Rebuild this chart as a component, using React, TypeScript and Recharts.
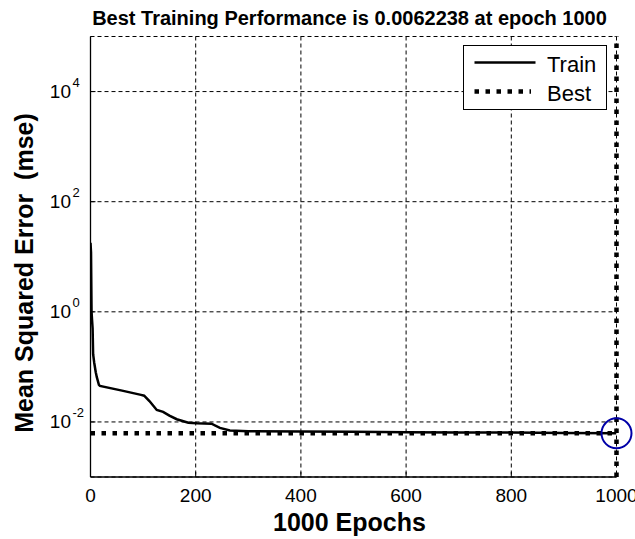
import React from 'react';
import {
  LineChart,
  Line,
  XAxis,
  YAxis,
  CartesianGrid,
  ReferenceLine,
  ReferenceDot,
  Legend,
  Label,
} from 'recharts';

// Training record: epoch and mean squared error
const epochs = [0, 1, 2, 3, 4, 5, 7, 10, 12, 16, 18, 60, 96, 102, 112, 126, 138, 150, 164, 186, 202, 230, 246, 265, 300, 400, 500, 600, 700, 800, 900, 1000];
const trainMse = [18, 12, 1.0, 0.7, 0.5, 0.17, 0.12, 0.08, 0.065, 0.047, 0.045, 0.037, 0.031, 0.030, 0.024, 0.0165, 0.0152, 0.013, 0.0112, 0.0097, 0.0095, 0.0093, 0.0078, 0.0070, 0.0068, 0.0067, 0.0066, 0.0065, 0.00645, 0.0064, 0.0063, 0.0062238];

const bestEpoch = 1000;
const bestMse = 0.0062238;

const xTicks = [0, 200, 400, 600, 800, 1000];
const yTicks = [1e-2, 1, 1e2, 1e4];
const yExponents = ['-2', '0', '2', '4'];

const seriesNames = ['Train', 'Best'];

const FONT = '"Liberation Sans", Arial, Helvetica, sans-serif';
const BEST_DASH = '4.5 6.5';

const trainData = epochs.map((epoch, i) => ({ epoch, mse: trainMse[i] }));
const bestData = [
  { epoch: 0, mse: bestMse },
  { epoch: bestEpoch, mse: bestMse },
];

const lineStyles = [
  { strokeWidth: 2.5, dash: undefined as string | undefined, end: 72.5 },
  { strokeWidth: 4.5, dash: BEST_DASH, end: 68 },
];

const XTick = (props: any) => {
  const { x, y, payload } = props;
  return (
    <text x={x} y={y + 25} textAnchor="middle" fontSize={19} fontFamily={FONT} fill="#000">
      {payload.value}
    </text>
  );
};

const YTick = (props: any) => {
  const { x, y, payload } = props;
  const idx = yTicks.findIndex((t) => Math.abs(Math.log10(t) - Math.log10(payload.value)) < 1e-6);
  const exp = idx >= 0 ? yExponents[idx] : String(Math.round(Math.log10(payload.value)));
  return (
    <g>
      <text x={x} y={y + 6.5} textAnchor="end" fontSize={19} fontFamily={FONT} fill="#000">
        10
      </text>
      <text x={x + 1.5} y={y - 4.5} textAnchor="start" fontSize={13} fontFamily={FONT} fill="#000">
        {exp}
      </text>
    </g>
  );
};

const EmptyTick = () => <g />;

const TitleLabel = (props: any) => {
  const vb = props.viewBox || { x: 0, width: 0 };
  return (
    <text
      x={vb.x + vb.width / 2 - 4}
      y={25}
      textAnchor="middle"
      fontSize={20}
      fontWeight="bold"
      fontFamily={FONT}
      fill="#000"
    >
      Best Training Performance is 0.0062238 at epoch 1000
    </text>
  );
};

const XTitle = (props: any) => {
  const vb = props.viewBox || { x: 0, width: 0 };
  return (
    <text
      x={vb.x + vb.width / 2 - 4}
      y={531}
      textAnchor="middle"
      fontSize={25}
      fontWeight="bold"
      fontFamily={FONT}
      fill="#000"
    >
      1000 Epochs
    </text>
  );
};

const YTitle = () => (
  <text
    x={33}
    y={273}
    transform="rotate(-90, 33, 273)"
    textAnchor="middle"
    fontSize={25}
    fontWeight="bold"
    fontFamily={FONT}
    fill="#000"
    style={{ whiteSpace: 'pre' }}
  >
    {'Mean Squared Error  (mse)'}
  </text>
);

const LegendBox = () => (
  <svg width={144} height={65} style={{ display: 'block' }}>
    <rect x={0.5} y={0.5} width={143} height={64} fill="#fff" stroke="#000" strokeWidth={1} />
    {seriesNames.map((name, i) => {
      const style = lineStyles[i];
      const cy = 17.5 + i * 29;
      return (
        <g key={name}>
          <line
            x1={11.5}
            x2={style.end}
            y1={cy}
            y2={cy}
            stroke="#000"
            strokeWidth={style.strokeWidth}
            strokeDasharray={style.dash}
          />
          <text x={84} y={cy + 9.5} fontSize={22} fontFamily={FONT} fill="#000">
            {name}
          </text>
        </g>
      );
    })}
  </svg>
);

export default function App() {
  return (
    <div
      style={{
        position: 'fixed',
        left: 0,
        top: 0,
        width: 635,
        height: 539,
        overflow: 'hidden',
        background: '#fff',
      }}
    >
      <LineChart
        width={635}
        height={539}
        margin={{ top: 36.5, right: 18.5, bottom: 32, left: 30.5 }}
        style={{ background: '#fff' }}
      >
        <CartesianGrid stroke="#000" strokeDasharray="4 3" strokeWidth={1} />
        <XAxis
          type="number"
          dataKey="epoch"
          domain={[0, 1000]}
          ticks={xTicks}
          interval={0}
          allowDataOverflow
          height={30}
          tickSize={-5}
          tickMargin={5}
          tick={<XTick />}
          stroke="#000"
          axisLine={{ stroke: '#000', strokeWidth: 1.3 }}
          tickLine={{ stroke: '#000' }}
        >
          <Label content={XTitle} />
          <Label content={TitleLabel} />
        </XAxis>
        <XAxis
          xAxisId="top"
          orientation="top"
          type="number"
          domain={[0, 1000]}
          ticks={xTicks}
          interval={0}
          allowDataOverflow
          height={0}
          tickSize={-5}
          tick={<EmptyTick />}
          axisLine={{ stroke: '#000', strokeWidth: 1.3 }}
          tickLine={{ stroke: '#000' }}
        />
        <YAxis
          type="number"
          scale="log"
          domain={[1e-3, 1e5]}
          ticks={yTicks}
          interval={0}
          allowDataOverflow
          width={60}
          tickSize={-5}
          tickMargin={24.5}
          tick={<YTick />}
          axisLine={{ stroke: '#000', strokeWidth: 1.3 }}
          tickLine={{ stroke: '#000' }}
        >
          <Label content={YTitle} />
        </YAxis>
        <YAxis
          yAxisId="right"
          orientation="right"
          type="number"
          scale="log"
          domain={[1e-3, 1e5]}
          ticks={yTicks}
          interval={0}
          allowDataOverflow
          width={0}
          tickSize={-5}
          tick={<EmptyTick />}
          axisLine={{ stroke: '#000', strokeWidth: 1.3 }}
          tickLine={{ stroke: '#000' }}
        />
        <ReferenceLine
          x={bestEpoch}
          stroke="#000"
          strokeWidth={4.5}
          strokeDasharray={BEST_DASH}
          ifOverflow="extendDomain"
        />
        <Line
          data={trainData}
          dataKey="mse"
          name={seriesNames[0]}
          type="linear"
          stroke="#000"
          strokeWidth={lineStyles[0].strokeWidth}
          dot={false}
          activeDot={false}
          isAnimationActive={false}
        />
        <Line
          data={bestData}
          dataKey="mse"
          name={seriesNames[1]}
          type="linear"
          stroke="#000"
          strokeWidth={lineStyles[1].strokeWidth}
          strokeDasharray={BEST_DASH}
          dot={false}
          activeDot={false}
          isAnimationActive={false}
        />
        <ReferenceDot
          x={bestEpoch}
          y={bestMse}
          r={15}
          fill="none"
          stroke="#0000a8"
          strokeWidth={2}
        />
        <Legend
          layout="vertical"
          align="center"
          verticalAlign="middle"
          wrapperStyle={{ position: 'absolute', left: 462.5, top: 45, width: 144, height: 65, margin: 0, padding: 0 }}
          content={LegendBox}
        />
      </LineChart>
    </div>
  );
}
